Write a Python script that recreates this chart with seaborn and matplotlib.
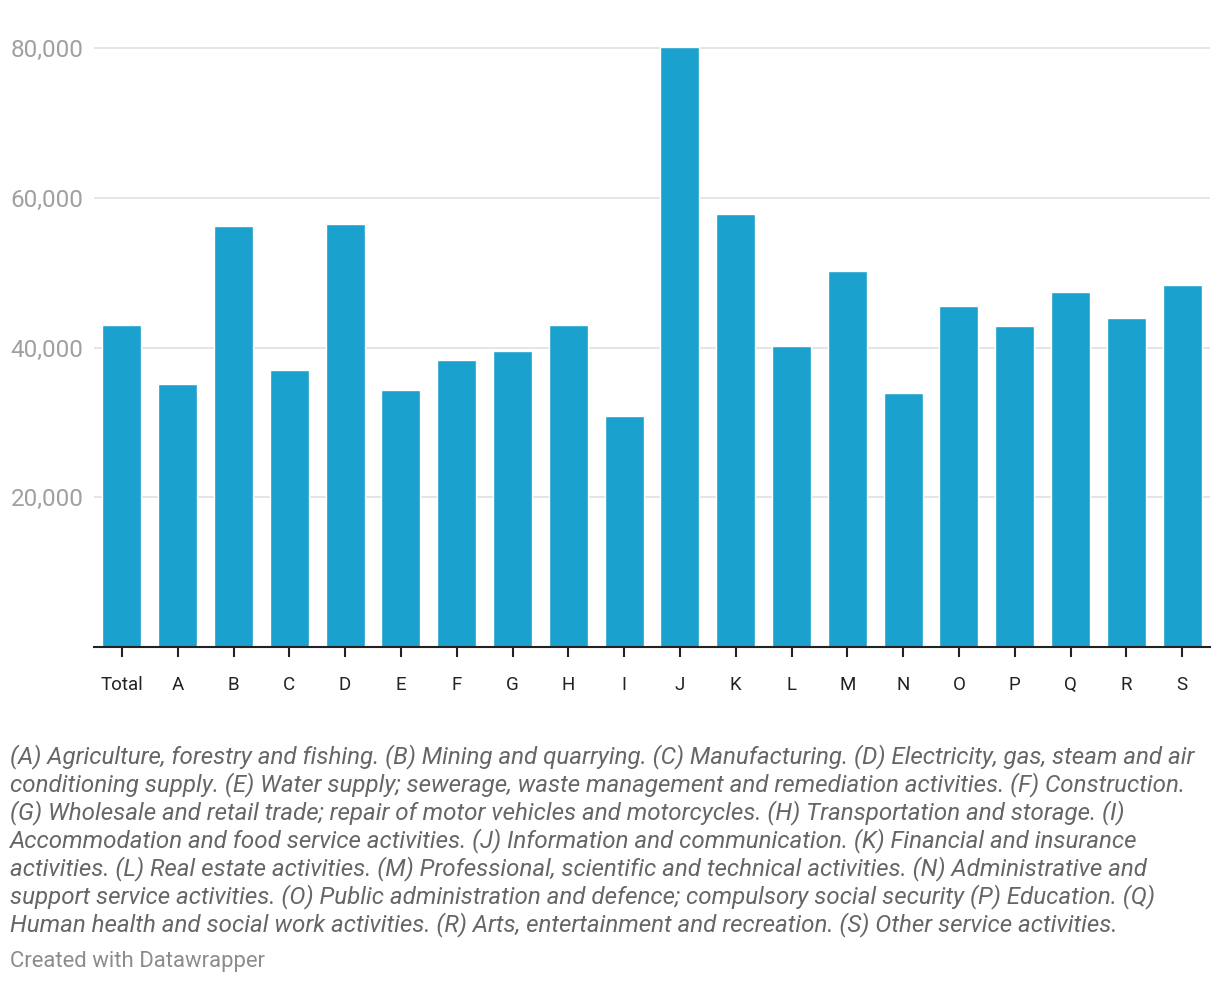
import pandas as pd
import seaborn as sns
import matplotlib.pyplot as plt
from matplotlib.ticker import FuncFormatter

# Data
sectors = ["Total", "A", "B", "C", "D", "E", "F", "G", "H", "I",
           "J", "K", "L", "M", "N", "O", "P", "Q", "R", "S"]
salaries = [43000, 35100, 56200, 37000, 56500, 34400, 38300, 39500, 43000, 30800,
            80200, 57800, 40200, 50200, 34000, 45500, 42900, 47400, 43900, 48300]
y_ticks = [20000, 40000, 60000, 80000]

caption_lines = [
    "(A) Agriculture, forestry and fishing. (B) Mining and quarrying. (C) Manufacturing. (D) Electricity, gas, steam and air",
    "conditioning supply. (E) Water supply; sewerage, waste management and remediation activities. (F) Construction.",
    "(G) Wholesale and retail trade; repair of motor vehicles and motorcycles. (H) Transportation and storage. (I)",
    "Accommodation and food service activities. (J) Information and communication. (K) Financial and insurance",
    "activities. (L) Real estate activities. (M) Professional, scientific and technical activities. (N) Administrative and",
    "support service activities. (O) Public administration and defence; compulsory social security (P) Education. (Q)",
    "Human health and social work activities. (R) Arts, entertainment and recreation. (S) Other service activities.",
]

df = pd.DataFrame({"sector": sectors, "salary": salaries})

# Styles
sns.set_theme(style="white")
plt.rcParams["font.family"] = ["Roboto", "DejaVu Sans"]

W, H = 1220, 984
fig = plt.figure(figsize=(W / 100, H / 100), dpi=100)
ax = fig.add_axes([94 / W, 1 - 647 / H, (1210 - 94) / W, (647 - 29.5) / H])

sns.barplot(data=df, x="sector", y="salary", order=sectors, color="#1aa1cd",
            width=0.7, saturation=1, ax=ax)

ax.set_xlim(-0.5, len(sectors) - 0.5)
ax.set_ylim(0, 82500)
ax.set_yticks(y_ticks)
ax.yaxis.set_major_formatter(FuncFormatter(lambda v, p: f"{int(v):,}"))
ax.grid(axis="y", color="#e3e3e3", linewidth=1.3)
ax.set_axisbelow(True)
ax.set_xlabel("")
ax.set_ylabel("")

for side in ["top", "right", "left"]:
    ax.spines[side].set_visible(False)
ax.spines["bottom"].set_color("#222222")
ax.spines["bottom"].set_linewidth(1.5)

ax.tick_params(axis="x", length=7, width=1.5, color="#222222", pad=14,
               labelsize=13.5, labelcolor="#222222", bottom=True)
ax.tick_params(axis="y", length=0, pad=7.5, labelsize=17.5, labelcolor="#a0a0a0")

# Caption
fig.text(10 / W, 1 - 744 / H, "\n".join(caption_lines), ha="left", va="top",
         fontsize=17.4, style="italic", color="#666666", linespacing=1.16)
fig.text(10 / W, 1 - 961 / H, "Created with Datawrapper", ha="left", va="center",
         fontsize=15.9, color="#8c8c8c")

plt.savefig("out.png", dpi=100)
